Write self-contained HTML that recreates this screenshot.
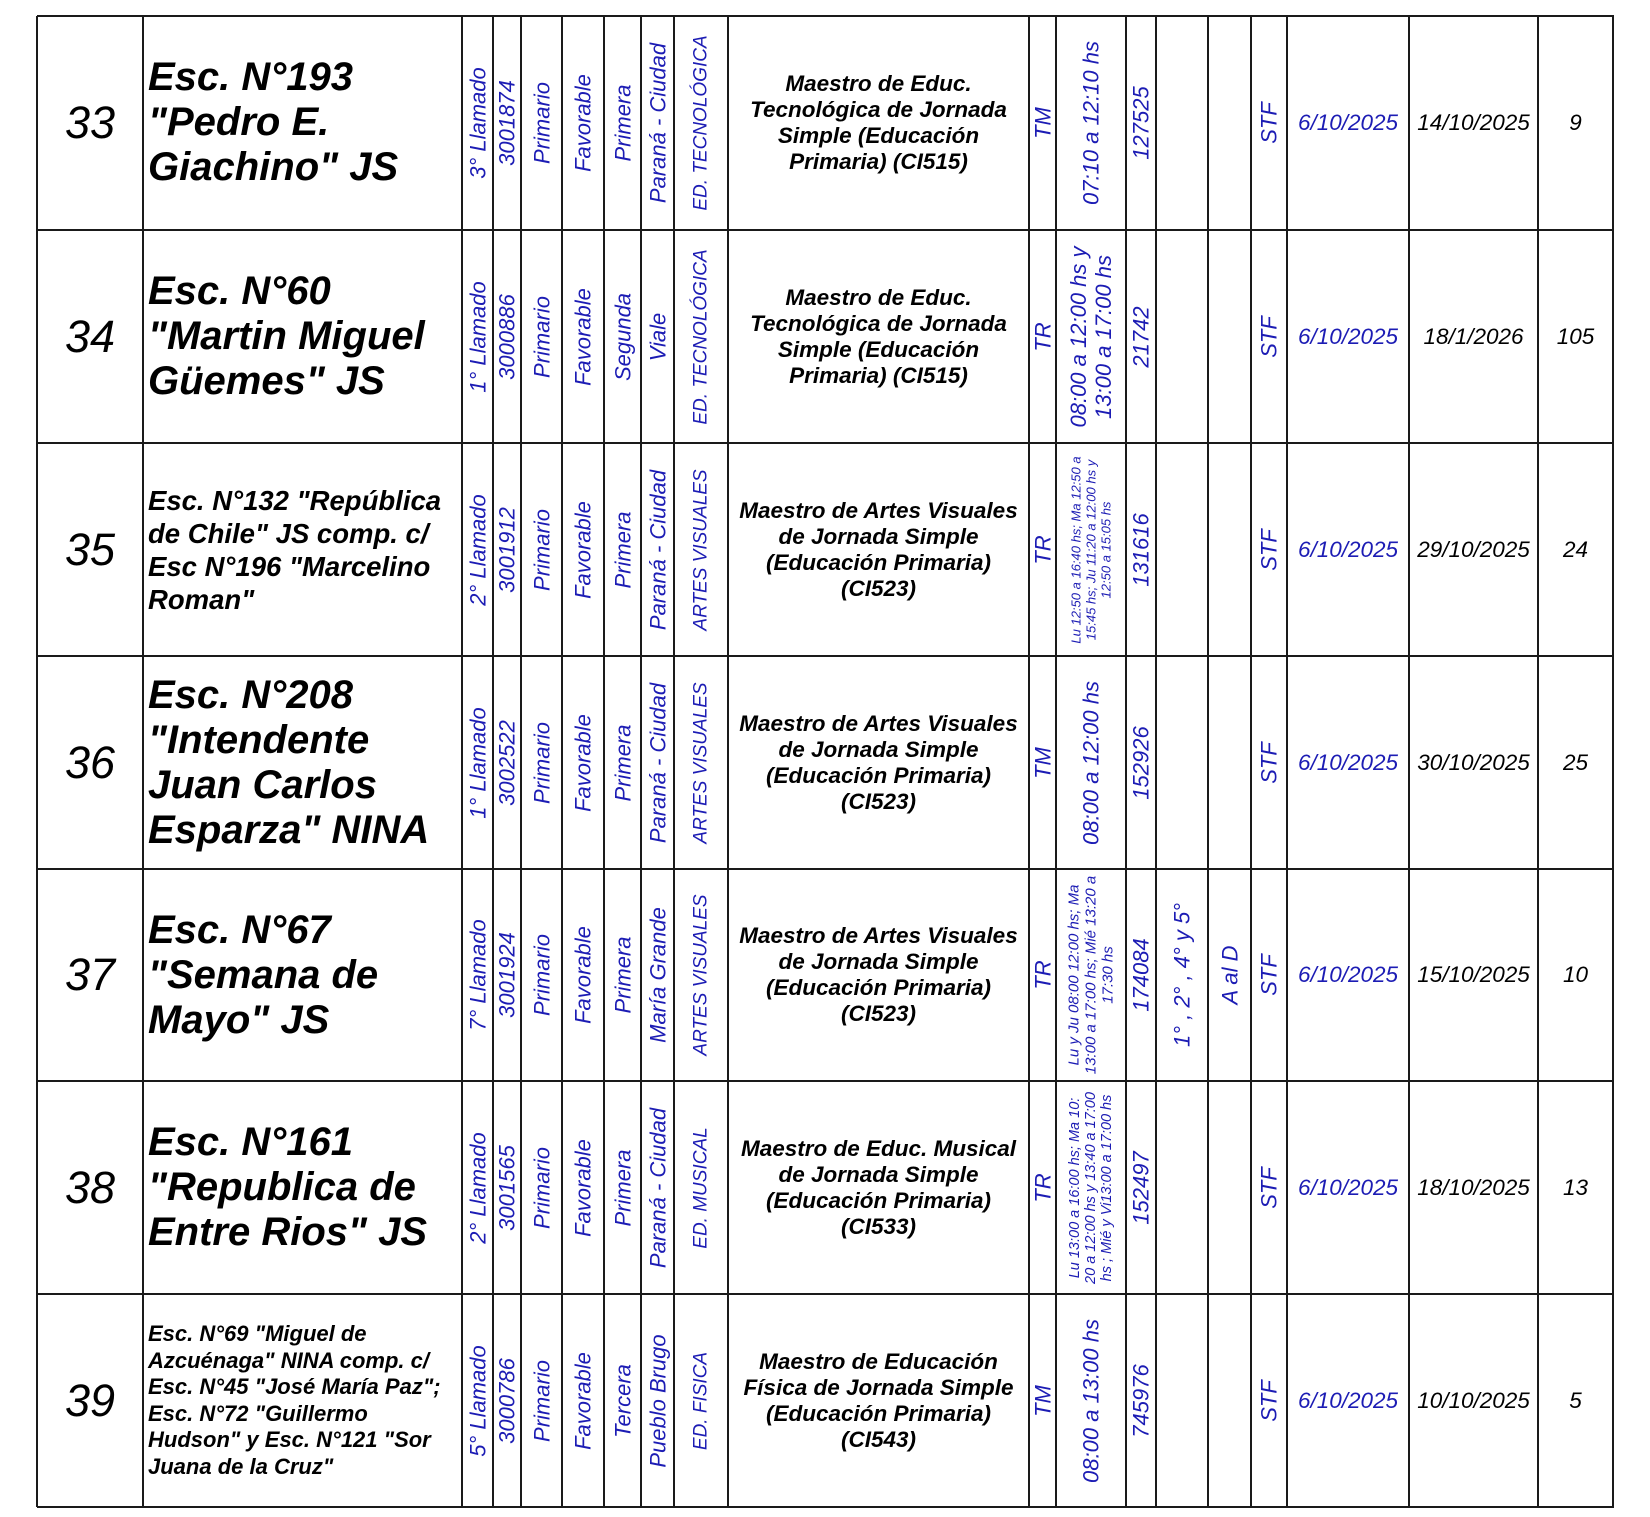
<!DOCTYPE html>
<html><head><meta charset="utf-8"><style>
*{margin:0;padding:0;box-sizing:border-box}
body{width:1650px;height:1517px;background:#fff;position:relative;overflow:hidden;font-family:"Liberation Sans",sans-serif;font-style:italic}
.vl{position:absolute;top:16px;height:1491px;width:2px;background:#1a1a1a}
.hl{position:absolute;left:37px;width:1577px;height:2px;background:#1a1a1a}
.c{position:absolute;display:flex;align-items:center;justify-content:center;text-align:center}
.r{position:absolute;left:50%;top:50%;width:210px;transform:translate(-50%,-50%) rotate(-90deg);text-align:center;white-space:nowrap;color:#1c1cb4;font-size:22px;line-height:23px}
.b{color:#1c1cb4}
.num{font-size:45px;color:#000}
.name{position:absolute;left:148px;width:318px;display:flex;align-items:center;font-weight:bold;color:#000;white-space:nowrap}
.m{font-weight:bold;font-size:22.5px;line-height:26px;color:#000;white-space:nowrap}
.d{font-size:22.5px}
.a{font-size:19px!important}
.big{font-size:40px;line-height:45px}
</style></head><body>
<div class="vl" style="left:36px"></div><div class="vl" style="left:142px"></div><div class="vl" style="left:461px"></div><div class="vl" style="left:492px"></div><div class="vl" style="left:520px"></div><div class="vl" style="left:561px"></div><div class="vl" style="left:603px"></div><div class="vl" style="left:640px"></div><div class="vl" style="left:673px"></div><div class="vl" style="left:727px"></div><div class="vl" style="left:1028px"></div><div class="vl" style="left:1055px"></div><div class="vl" style="left:1125px"></div><div class="vl" style="left:1155px"></div><div class="vl" style="left:1207px"></div><div class="vl" style="left:1250px"></div><div class="vl" style="left:1286px"></div><div class="vl" style="left:1408px"></div><div class="vl" style="left:1537px"></div><div class="vl" style="left:1612px"></div>
<div class="hl" style="top:15px"></div><div class="hl" style="top:229px"></div><div class="hl" style="top:442px"></div><div class="hl" style="top:655px"></div><div class="hl" style="top:868px"></div><div class="hl" style="top:1080px"></div><div class="hl" style="top:1293px"></div><div class="hl" style="top:1506px"></div>

<!-- ROW 33 -->
<div class="c num" style="left:37px;top:16px;width:106px;height:213px">33</div>
<div class="name big" style="top:16px;height:213px">Esc. N°193<br>"Pedro E.<br>Giachino" JS</div>
<div class="c" style="left:462px;top:16px;width:31px;height:213px"><div class="r">3° Llamado</div></div>
<div class="c" style="left:493px;top:16px;width:28px;height:213px"><div class="r">3001874</div></div>
<div class="c" style="left:521px;top:16px;width:41px;height:213px"><div class="r">Primario</div></div>
<div class="c" style="left:562px;top:16px;width:42px;height:213px"><div class="r">Favorable</div></div>
<div class="c" style="left:604px;top:16px;width:37px;height:213px"><div class="r">Primera</div></div>
<div class="c" style="left:641px;top:16px;width:33px;height:213px"><div class="r">Paraná - Ciudad</div></div>
<div class="c" style="left:674px;top:16px;width:54px;height:213px"><div class="r a">ED. TECNOLÓGICA</div></div>
<div class="c m" style="left:728px;top:16px;width:301px;height:213px">Maestro de Educ.<br>Tecnológica de Jornada<br>Simple (Educación<br>Primaria) (CI515)</div>
<div class="c" style="left:1029px;top:16px;width:27px;height:213px"><div class="r">TM</div></div>
<div class="c" style="left:1056px;top:16px;width:70px;height:213px"><div class="r">07:10 a 12:10 hs</div></div>
<div class="c" style="left:1126px;top:16px;width:30px;height:213px"><div class="r">127525</div></div>
<div class="c" style="left:1251px;top:16px;width:36px;height:213px"><div class="r">STF</div></div>
<div class="c d b" style="left:1287px;top:16px;width:122px;height:213px">6/10/2025</div>
<div class="c d" style="left:1409px;top:16px;width:129px;height:213px">14/10/2025</div>
<div class="c d" style="left:1538px;top:16px;width:75px;height:213px">9</div>

<!-- ROW 34 -->
<div class="c num" style="left:37px;top:230px;width:106px;height:213px">34</div>
<div class="name big" style="top:230px;height:213px">Esc. N°60<br>"Martin Miguel<br>Güemes" JS</div>
<div class="c" style="left:462px;top:230px;width:31px;height:213px"><div class="r">1° Llamado</div></div>
<div class="c" style="left:493px;top:230px;width:28px;height:213px"><div class="r">3000886</div></div>
<div class="c" style="left:521px;top:230px;width:41px;height:213px"><div class="r">Primario</div></div>
<div class="c" style="left:562px;top:230px;width:42px;height:213px"><div class="r">Favorable</div></div>
<div class="c" style="left:604px;top:230px;width:37px;height:213px"><div class="r">Segunda</div></div>
<div class="c" style="left:641px;top:230px;width:33px;height:213px"><div class="r">Viale</div></div>
<div class="c" style="left:674px;top:230px;width:54px;height:213px"><div class="r a">ED. TECNOLÓGICA</div></div>
<div class="c m" style="left:728px;top:230px;width:301px;height:213px">Maestro de Educ.<br>Tecnológica de Jornada<br>Simple (Educación<br>Primaria) (CI515)</div>
<div class="c" style="left:1029px;top:230px;width:27px;height:213px"><div class="r">TR</div></div>
<div class="c" style="left:1056px;top:230px;width:70px;height:213px"><div class="r" style="line-height:25px">08:00 a 12:00 hs y<br>13:00 a 17:00 hs</div></div>
<div class="c" style="left:1126px;top:230px;width:30px;height:213px"><div class="r">21742</div></div>
<div class="c" style="left:1251px;top:230px;width:36px;height:213px"><div class="r">STF</div></div>
<div class="c d b" style="left:1287px;top:230px;width:122px;height:213px">6/10/2025</div>
<div class="c d" style="left:1409px;top:230px;width:129px;height:213px">18/1/2026</div>
<div class="c d" style="left:1538px;top:230px;width:75px;height:213px">105</div>

<!-- ROW 35 -->
<div class="c num" style="left:37px;top:443px;width:106px;height:213px">35</div>
<div class="name" style="top:443px;height:213px;font-size:27.5px;line-height:33px">Esc. N°132 "República<br>de Chile" JS comp. c/<br>Esc N°196 "Marcelino<br>Roman"</div>
<div class="c" style="left:462px;top:443px;width:31px;height:213px"><div class="r">2° Llamado</div></div>
<div class="c" style="left:493px;top:443px;width:28px;height:213px"><div class="r">3001912</div></div>
<div class="c" style="left:521px;top:443px;width:41px;height:213px"><div class="r">Primario</div></div>
<div class="c" style="left:562px;top:443px;width:42px;height:213px"><div class="r">Favorable</div></div>
<div class="c" style="left:604px;top:443px;width:37px;height:213px"><div class="r">Primera</div></div>
<div class="c" style="left:641px;top:443px;width:33px;height:213px"><div class="r">Paraná - Ciudad</div></div>
<div class="c" style="left:674px;top:443px;width:54px;height:213px"><div class="r a">ARTES VISUALES</div></div>
<div class="c m" style="left:728px;top:443px;width:301px;height:213px">Maestro de Artes Visuales<br>de Jornada Simple<br>(Educación Primaria)<br>(CI523)</div>
<div class="c" style="left:1029px;top:443px;width:27px;height:213px"><div class="r">TR</div></div>
<div class="c" style="left:1056px;top:443px;width:70px;height:213px"><div class="r" style="font-size:13px;line-height:15px">Lu 12:50 a 16:40 hs; Ma 12:50 a<br>15:45 hs; Ju 11:20 a 12:00 hs y<br>12:50 a 15:05 hs</div></div>
<div class="c" style="left:1126px;top:443px;width:30px;height:213px"><div class="r">131616</div></div>
<div class="c" style="left:1251px;top:443px;width:36px;height:213px"><div class="r">STF</div></div>
<div class="c d b" style="left:1287px;top:443px;width:122px;height:213px">6/10/2025</div>
<div class="c d" style="left:1409px;top:443px;width:129px;height:213px">29/10/2025</div>
<div class="c d" style="left:1538px;top:443px;width:75px;height:213px">24</div>

<!-- ROW 36 -->
<div class="c num" style="left:37px;top:656px;width:106px;height:213px">36</div>
<div class="name big" style="top:656px;height:213px">Esc. N°208<br>"Intendente<br>Juan Carlos<br>Esparza" NINA</div>
<div class="c" style="left:462px;top:656px;width:31px;height:213px"><div class="r">1° Llamado</div></div>
<div class="c" style="left:493px;top:656px;width:28px;height:213px"><div class="r">3002522</div></div>
<div class="c" style="left:521px;top:656px;width:41px;height:213px"><div class="r">Primario</div></div>
<div class="c" style="left:562px;top:656px;width:42px;height:213px"><div class="r">Favorable</div></div>
<div class="c" style="left:604px;top:656px;width:37px;height:213px"><div class="r">Primera</div></div>
<div class="c" style="left:641px;top:656px;width:33px;height:213px"><div class="r">Paraná - Ciudad</div></div>
<div class="c" style="left:674px;top:656px;width:54px;height:213px"><div class="r a">ARTES VISUALES</div></div>
<div class="c m" style="left:728px;top:656px;width:301px;height:213px">Maestro de Artes Visuales<br>de Jornada Simple<br>(Educación Primaria)<br>(CI523)</div>
<div class="c" style="left:1029px;top:656px;width:27px;height:213px"><div class="r">TM</div></div>
<div class="c" style="left:1056px;top:656px;width:70px;height:213px"><div class="r">08:00 a 12:00 hs</div></div>
<div class="c" style="left:1126px;top:656px;width:30px;height:213px"><div class="r">152926</div></div>
<div class="c" style="left:1251px;top:656px;width:36px;height:213px"><div class="r">STF</div></div>
<div class="c d b" style="left:1287px;top:656px;width:122px;height:213px">6/10/2025</div>
<div class="c d" style="left:1409px;top:656px;width:129px;height:213px">30/10/2025</div>
<div class="c d" style="left:1538px;top:656px;width:75px;height:213px">25</div>

<!-- ROW 37 -->
<div class="c num" style="left:37px;top:869px;width:106px;height:212px">37</div>
<div class="name big" style="top:869px;height:212px">Esc. N°67<br>"Semana de<br>Mayo" JS</div>
<div class="c" style="left:462px;top:869px;width:31px;height:212px"><div class="r">7° Llamado</div></div>
<div class="c" style="left:493px;top:869px;width:28px;height:212px"><div class="r">3001924</div></div>
<div class="c" style="left:521px;top:869px;width:41px;height:212px"><div class="r">Primario</div></div>
<div class="c" style="left:562px;top:869px;width:42px;height:212px"><div class="r">Favorable</div></div>
<div class="c" style="left:604px;top:869px;width:37px;height:212px"><div class="r">Primera</div></div>
<div class="c" style="left:641px;top:869px;width:33px;height:212px"><div class="r">María Grande</div></div>
<div class="c" style="left:674px;top:869px;width:54px;height:212px"><div class="r a">ARTES VISUALES</div></div>
<div class="c m" style="left:728px;top:869px;width:301px;height:212px">Maestro de Artes Visuales<br>de Jornada Simple<br>(Educación Primaria)<br>(CI523)</div>
<div class="c" style="left:1029px;top:869px;width:27px;height:212px"><div class="r">TR</div></div>
<div class="c" style="left:1056px;top:869px;width:70px;height:212px"><div class="r" style="font-size:15px;line-height:17px">Lu y Ju 08:00 12:00 hs; Ma<br>13:00 a 17:00 hs; Mié 13:20 a<br>17:30 hs</div></div>
<div class="c" style="left:1126px;top:869px;width:30px;height:212px"><div class="r">174084</div></div>
<div class="c" style="left:1156px;top:869px;width:52px;height:212px"><div class="r">1° , 2° , 4° y 5°</div></div>
<div class="c" style="left:1208px;top:869px;width:43px;height:212px"><div class="r">A al D</div></div>
<div class="c" style="left:1251px;top:869px;width:36px;height:212px"><div class="r">STF</div></div>
<div class="c d b" style="left:1287px;top:869px;width:122px;height:212px">6/10/2025</div>
<div class="c d" style="left:1409px;top:869px;width:129px;height:212px">15/10/2025</div>
<div class="c d" style="left:1538px;top:869px;width:75px;height:212px">10</div>

<!-- ROW 38 -->
<div class="c num" style="left:37px;top:1081px;width:106px;height:213px">38</div>
<div class="name big" style="top:1081px;height:213px">Esc. N°161<br>"Republica de<br>Entre Rios" JS</div>
<div class="c" style="left:462px;top:1081px;width:31px;height:213px"><div class="r">2° Llamado</div></div>
<div class="c" style="left:493px;top:1081px;width:28px;height:213px"><div class="r">3001565</div></div>
<div class="c" style="left:521px;top:1081px;width:41px;height:213px"><div class="r">Primario</div></div>
<div class="c" style="left:562px;top:1081px;width:42px;height:213px"><div class="r">Favorable</div></div>
<div class="c" style="left:604px;top:1081px;width:37px;height:213px"><div class="r">Primera</div></div>
<div class="c" style="left:641px;top:1081px;width:33px;height:213px"><div class="r">Paraná - Ciudad</div></div>
<div class="c" style="left:674px;top:1081px;width:54px;height:213px"><div class="r a">ED. MUSICAL</div></div>
<div class="c m" style="left:728px;top:1081px;width:301px;height:213px">Maestro de Educ. Musical<br>de Jornada Simple<br>(Educación Primaria)<br>(CI533)</div>
<div class="c" style="left:1029px;top:1081px;width:27px;height:213px"><div class="r">TR</div></div>
<div class="c" style="left:1056px;top:1081px;width:70px;height:213px"><div class="r" style="font-size:14.5px;line-height:16px">Lu 13:00 a 16:00 hs; Ma 10:<br>20 a 12:00 hs y 13:40 a 17:00<br>hs ; Mié y Vi13:00 a 17:00 hs</div></div>
<div class="c" style="left:1126px;top:1081px;width:30px;height:213px"><div class="r">152497</div></div>
<div class="c" style="left:1251px;top:1081px;width:36px;height:213px"><div class="r">STF</div></div>
<div class="c d b" style="left:1287px;top:1081px;width:122px;height:213px">6/10/2025</div>
<div class="c d" style="left:1409px;top:1081px;width:129px;height:213px">18/10/2025</div>
<div class="c d" style="left:1538px;top:1081px;width:75px;height:213px">13</div>

<!-- ROW 39 -->
<div class="c num" style="left:37px;top:1294px;width:106px;height:213px">39</div>
<div class="name" style="top:1294px;height:213px;font-size:22px;line-height:26.5px">Esc. N°69 "Miguel de<br>Azcuénaga" NINA comp. c/<br>Esc. N°45 "José María Paz";<br>Esc. N°72 "Guillermo<br>Hudson" y Esc. N°121 "Sor<br>Juana de la Cruz"</div>
<div class="c" style="left:462px;top:1294px;width:31px;height:213px"><div class="r">5° Llamado</div></div>
<div class="c" style="left:493px;top:1294px;width:28px;height:213px"><div class="r">3000786</div></div>
<div class="c" style="left:521px;top:1294px;width:41px;height:213px"><div class="r">Primario</div></div>
<div class="c" style="left:562px;top:1294px;width:42px;height:213px"><div class="r">Favorable</div></div>
<div class="c" style="left:604px;top:1294px;width:37px;height:213px"><div class="r">Tercera</div></div>
<div class="c" style="left:641px;top:1294px;width:33px;height:213px"><div class="r">Pueblo Brugo</div></div>
<div class="c" style="left:674px;top:1294px;width:54px;height:213px"><div class="r a">ED. FISICA</div></div>
<div class="c m" style="left:728px;top:1294px;width:301px;height:213px">Maestro de Educación<br>Física de Jornada Simple<br>(Educación Primaria)<br>(CI543)</div>
<div class="c" style="left:1029px;top:1294px;width:27px;height:213px"><div class="r">TM</div></div>
<div class="c" style="left:1056px;top:1294px;width:70px;height:213px"><div class="r">08:00 a 13:00 hs</div></div>
<div class="c" style="left:1126px;top:1294px;width:30px;height:213px"><div class="r">745976</div></div>
<div class="c" style="left:1251px;top:1294px;width:36px;height:213px"><div class="r">STF</div></div>
<div class="c d b" style="left:1287px;top:1294px;width:122px;height:213px">6/10/2025</div>
<div class="c d" style="left:1409px;top:1294px;width:129px;height:213px">10/10/2025</div>
<div class="c d" style="left:1538px;top:1294px;width:75px;height:213px">5</div>
</body></html>
